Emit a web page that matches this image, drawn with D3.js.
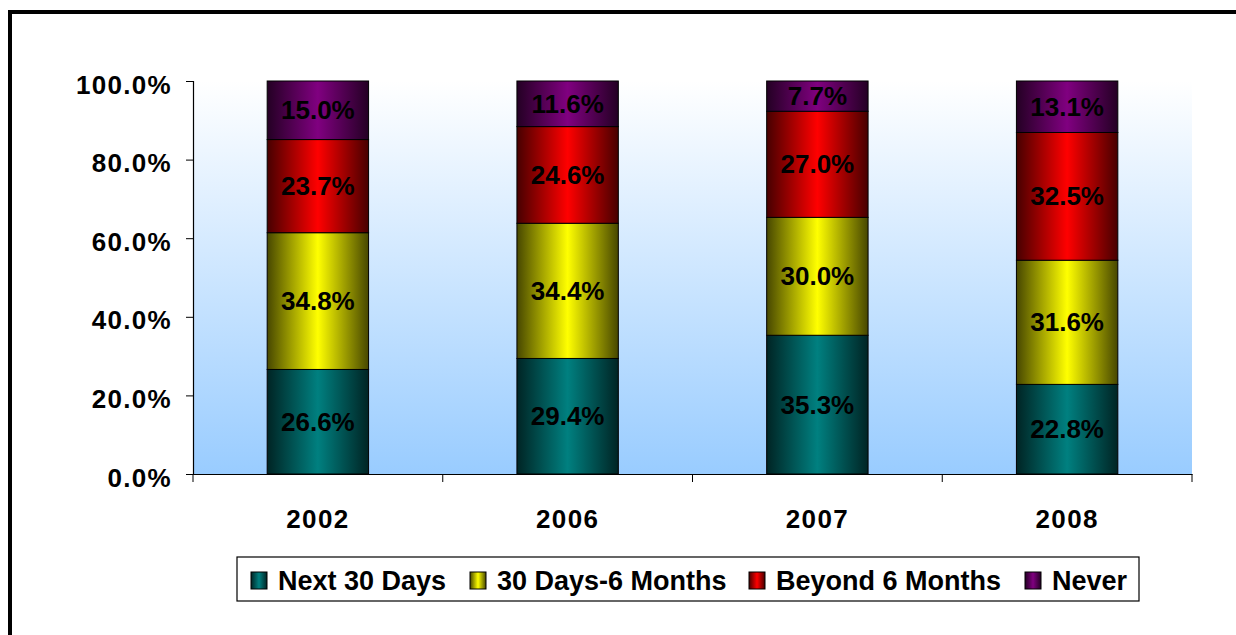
<!DOCTYPE html>
<html>
<head>
<meta charset="utf-8">
<script src="https://cdn.jsdelivr.net/npm/d3@7"></script>
<style>
  body { margin: 0; background: #fff; }
  text { font-family: Arial, "Liberation Sans", sans-serif; font-weight: bold; }
</style>
</head>
<body>
<svg id="chart" width="1236" height="635"></svg>
<script>
const years = ['2002', '2006', '2007', '2008']
const seriesNames = ['Next 30 Days', '30 Days-6 Months', 'Beyond 6 Months', 'Never']
const next30 = [26.6, 29.4, 35.3, 22.8]
const days30to6m = [34.8, 34.4, 30.0, 31.6]
const beyond6m = [23.7, 24.6, 27.0, 32.5]
const never = [15.0, 11.6, 7.7, 13.1]
const colors = ['#008080', '#ffff00', '#ff0000', '#800080']
const yTicks = [0, 20, 40, 60, 80, 100]

const svg = d3.select('#chart')
const plot = { left: 193, right: 1192, top: 81, bottom: 474 }

// outer frame
svg.append('rect').attr('x', 10).attr('y', 12).attr('width', 1240).attr('height', 640)
  .attr('fill', 'none').attr('stroke', '#000').attr('stroke-width', 4)

const defs = svg.append('defs')
const bg = defs.append('linearGradient').attr('id', 'bg').attr('x1', 0).attr('y1', 0).attr('x2', 0).attr('y2', 1)
bg.append('stop').attr('offset', '0%').attr('stop-color', '#ffffff')
bg.append('stop').attr('offset', '100%').attr('stop-color', '#99ccff')

colors.forEach((c, i) => {
  const dark = d3.interpolateRgb(c, '#000')(0.72)
  const g = defs.append('linearGradient').attr('id', 'g' + i).attr('x1', 0).attr('y1', 0).attr('x2', 1).attr('y2', 0)
  g.append('stop').attr('offset', '0%').attr('stop-color', dark)
  g.append('stop').attr('offset', '50%').attr('stop-color', c)
  g.append('stop').attr('offset', '100%').attr('stop-color', dark)
})

svg.append('rect').attr('x', plot.left).attr('y', plot.top)
  .attr('width', plot.right - plot.left).attr('height', plot.bottom - plot.top)
  .attr('fill', 'url(#bg)')

const x = d3.scaleBand().domain(years).range([plot.left, plot.right]).paddingInner(0.594).paddingOuter(0.297)
const xAxisScale = d3.scaleBand().domain(years).range([plot.left, plot.right])
const y = d3.scaleLinear().domain([0, 100]).range([plot.bottom, plot.top])

const rows = years.map((yr, i) => ({ year: yr, s0: next30[i], s1: days30to6m[i], s2: beyond6m[i], s3: never[i] }))
const stacked = d3.stack().keys(['s0', 's1', 's2', 's3'])(rows)

const layers = svg.selectAll('g.layer').data(stacked).join('g').attr('class', 'layer')
layers.selectAll('rect').data((d, i) => d.map(p => ({ p, i }))).join('rect')
  .attr('x', d => x(d.p.data.year))
  .attr('width', x.bandwidth())
  .attr('y', d => y(Math.min(d.p[1], 100)))
  .attr('height', d => y(d.p[0]) - y(Math.min(d.p[1], 100)))
  .attr('fill', d => 'url(#g' + d.i + ')')
  .attr('stroke', '#000').attr('stroke-width', 1)

layers.selectAll('text').data(d => d).join('text')
  .attr('x', d => x(d.data.year) + x.bandwidth() / 2)
  .attr('y', d => (y(d[0]) + y(Math.min(d[1], 100))) / 2 + 9)
  .attr('text-anchor', 'middle').attr('font-size', 26)
  .text(d => (d[1] - d[0]).toFixed(1) + '%')

// axes
const yAxis = svg.append('g').attr('transform', `translate(${plot.left},0)`)
  .call(d3.axisLeft(y).tickValues(yTicks).tickSize(7).tickFormat(d => d.toFixed(1) + '%'))
yAxis.select('.domain').attr('stroke', '#000').attr('stroke-width', 1.2)
yAxis.selectAll('text').attr('font-size', 26).attr('font-family', 'Arial').attr('fill', '#000')
  .attr('letter-spacing', 1.3).attr('x', -21).attr('dy', null).attr('y', 12)

const xAxis = svg.append('g').attr('transform', `translate(0,${plot.bottom})`)
  .call(d3.axisBottom(xAxisScale).tickSize(0).tickFormat(d => d))
xAxis.select('.domain').attr('stroke', '#000').attr('stroke-width', 1.2)
xAxis.selectAll('text').attr('font-size', 26).attr('font-family', 'Arial').attr('fill', '#000')
  .attr('letter-spacing', 1.3).attr('dy', null).attr('y', 54)
const edges = years.map(d => xAxisScale(d)).concat([plot.right])
xAxis.selectAll('line.edge').data(edges).join('line').attr('class', 'edge')
  .attr('x1', d => d).attr('x2', d => d).attr('y1', 0).attr('y2', 8).attr('stroke', '#000')

// legend
const legend = svg.append('g')
legend.append('rect').attr('x', 237).attr('y', 557).attr('width', 902).attr('height', 44)
  .attr('fill', '#fff').attr('stroke', '#000').attr('stroke-width', 1.2)
const legendX = [251, 470, 749, 1025]
seriesNames.forEach((name, i) => {
  const g = legend.append('g').attr('transform', `translate(${legendX[i]},572)`)
  g.append('rect').attr('width', 16).attr('height', 17).attr('fill', 'url(#g' + i + ')').attr('stroke', '#000')
  g.append('text').attr('x', 27).attr('y', 18).attr('font-size', 27).text(name)
})
</script>
</body>
</html>
